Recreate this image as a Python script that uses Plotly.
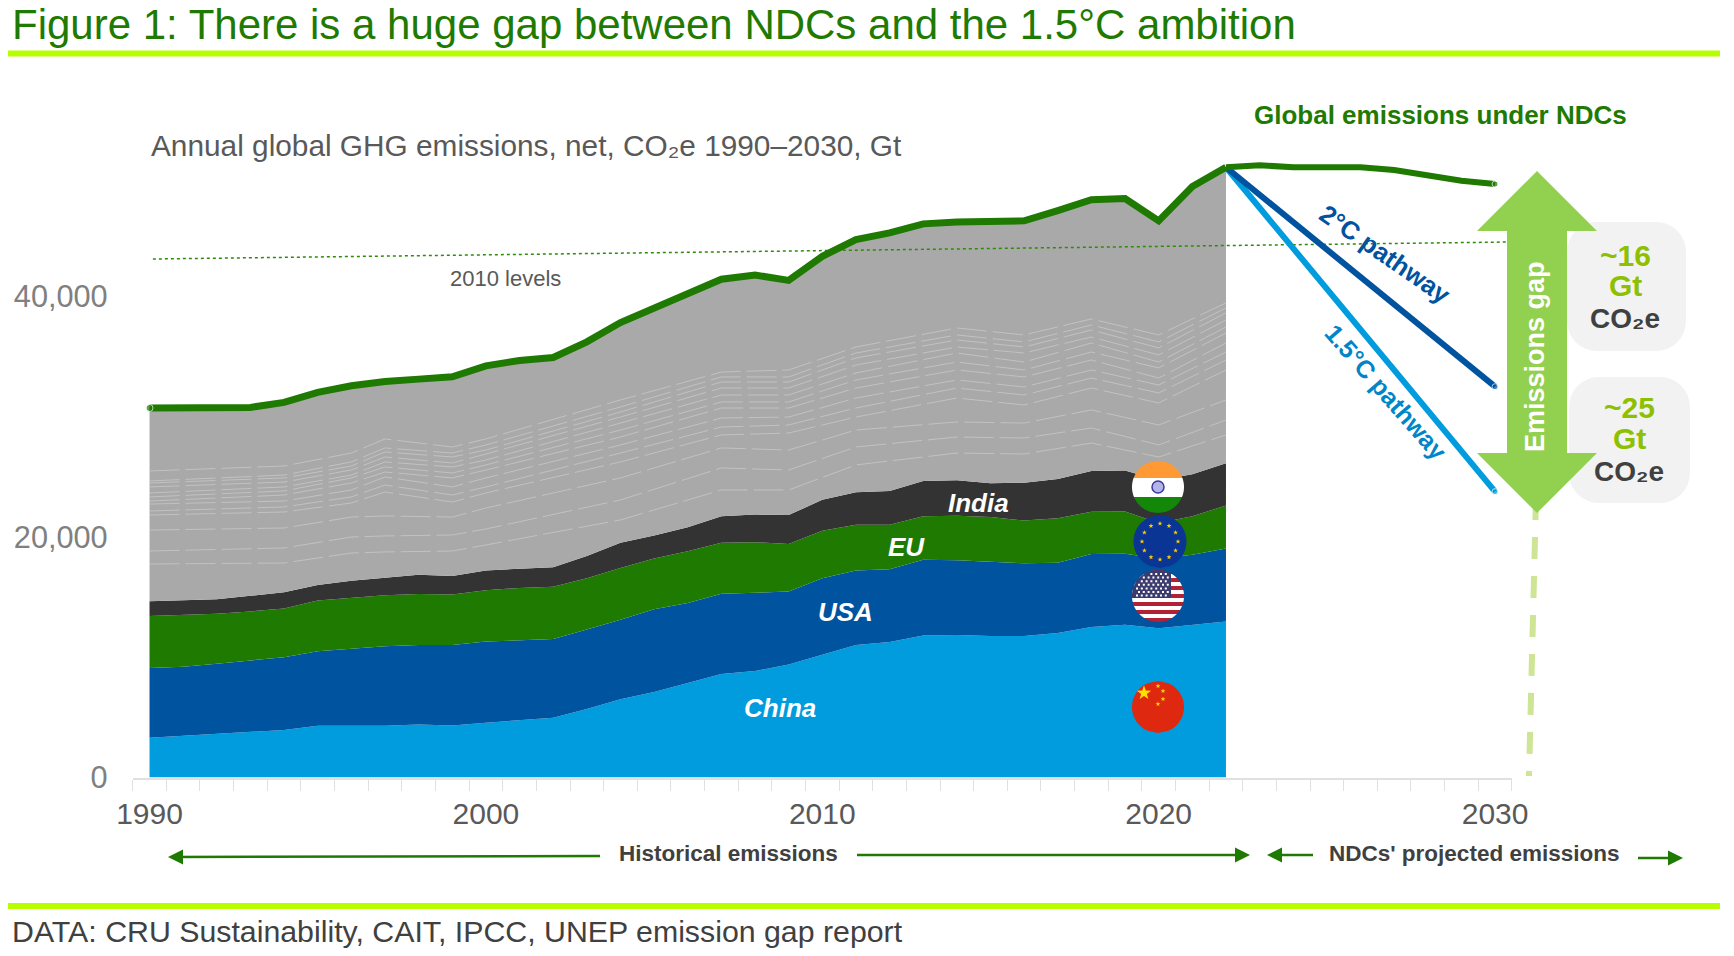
import math
import plotly.graph_objects as go

# the page keeps its 8px body margin, so the figure is a bit smaller than the window
W, H = 1718, 940
PAGE = 8

years = list(range(1990, 2023))
total = [30700, 30750, 30700, 30750, 31170, 32000, 32550, 32900, 33100, 33300, 34200, 34650, 34900, 36200, 37800, 39000, 40100,
         41400, 41750, 41300, 43300, 44700, 45250, 46000, 46150, 46150, 46250, 47100, 48000, 48100, 46250, 49100, 50700]
india_top = [14650, 14700, 14800, 15100, 15400, 16000, 16350, 16600, 16850, 16750, 17200, 17350, 17470, 18400, 19500, 20100, 20800,
             21700, 21850, 21800, 23080, 23700, 23800, 24640, 24700, 24450, 24500, 24800, 25470, 25500, 24700, 25200, 26100]
eu_top = [13420, 13500, 13600, 13800, 14050, 14700, 14950, 15150, 15250, 15200, 15550, 15750, 15850, 16550, 17400, 18200, 18800,
          19500, 19550, 19400, 20500, 21000, 21000, 21700, 21750, 21650, 21350, 21550, 22070, 22100, 21150, 21700, 22600]
usa_top = [9100, 9200, 9450, 9750, 10000, 10480, 10700, 10900, 11000, 11000, 11300, 11400, 11500, 12300, 13100, 13980, 14500,
           15260, 15350, 15450, 16550, 17200, 17300, 18100, 18050, 17900, 17800, 17850, 18570, 18600, 18200, 18500, 19030]
china_top = [3300, 3450, 3600, 3800, 3950, 4300, 4300, 4300, 4400, 4320, 4550, 4750, 4970, 5700, 6500, 7100, 7850,
             8600, 8850, 9380, 10200, 11000, 11250, 11800, 11850, 11750, 11750, 12000, 12500, 12700, 12400, 12700, 12960]

ndc_years = list(range(2022, 2031))
ndc = [50700, 50870, 50700, 50700, 50700, 50480, 50060, 49590, 49310]
path_years = [2022, 2030]
path_2c = [50700, 32470]
path_15c = [50700, 23750]

level_years = [1990.1, 2030.35]
level_2010 = [43080, 44490]

# thin boundaries between the smaller countries, read at these years
other_years = [1990, 1994, 1996, 1997, 1999, 2000, 2004, 2007, 2009, 2011, 2014, 2016, 2018, 2020, 2022]
other_rows = [
    [25470, 24640, 24470, 24140, 23640, 23310, 22970, 22720, 22140, 21810, 20560, 18820, 17740],
    [25880, 25130, 24890, 24550, 24140, 23810, 23470, 22970, 22480, 22060, 20730, 19070, 17820],
    [26960, 26220, 25880, 25550, 25130, 24890, 24470, 23890, 23310, 22810, 21640, 19980, 18650],
    [28130, 27380, 27050, 26630, 26220, 25800, 25380, 24970, 24300, 23720, 21730, 20070, 18740],
    [27460, 26960, 26630, 26130, 25800, 25300, 24890, 24140, 23470, 22890, 21640, 20150, 18820],
    [28130, 27630, 27210, 26880, 26380, 25970, 25550, 24890, 24140, 23640, 22390, 20650, 19320],
    [31370, 30790, 30370, 29950, 29450, 28870, 28290, 27630, 26960, 26220, 24890, 23060, 21400],
    [33690, 33280, 32860, 32360, 31780, 31200, 30700, 29870, 29120, 28460, 27380, 25720, 23890],
    [33860, 33280, 32860, 32360, 31780, 31200, 30700, 29950, 29290, 28620, 27210, 25550, 23890],
    [35770, 35270, 34860, 34270, 33610, 33030, 32360, 31530, 30700, 29950, 28870, 27460, 25970],
    [37350, 36770, 36350, 35770, 35270, 34520, 33860, 33030, 32360, 31530, 29540, 28290, 26960],
    [36770, 36190, 35770, 35270, 34520, 33860, 33280, 32450, 31780, 30950, 29450, 28210, 26880],
    [38100, 37600, 37180, 36600, 36100, 35350, 34690, 33860, 33190, 32360, 30540, 29040, 27790],
    [36770, 36190, 35690, 35110, 34520, 34030, 33190, 32610, 31950, 31120, 29290, 27630, 26630],
    [39430, 39010, 38600, 38010, 37430, 36930, 36100, 35350, 34690, 33860, 31370, 29700, 28460],
]

tick_years = [1990, 2000, 2010, 2020, 2030]
tick_values = [0, 20000, 40000]

GREEN = "#1E7A00"
LIME = "#B7FF00"
DARK_BLUE = "#00539F"
LIGHT_BLUE = "#009CDE"
ARROW_GREEN = "#92D050"
TEXT = "#595959"
FONT = "Liberation Sans"


def px(x):
    return (x - PAGE) / W


def py(y):
    return 1 - (y - PAGE) / H


def poly(points, color):
    d = "M" + " L".join(f"{px(x):.5f},{py(y):.5f}" for x, y in points) + " Z"
    return dict(type="path", xref="paper", yref="paper", path=d, fillcolor=color, line=dict(width=0))


def rect(x0, y0, x1, y1, color):
    return dict(type="rect", xref="paper", yref="paper", x0=px(x0), x1=px(x1), y0=py(y0), y1=py(y1),
                fillcolor=color, line=dict(width=0))


def disc_part(cx, cy, r, y0, y1, color, xmax=None):
    # piece of a round flag between two heights
    y0 = max(y0, cy - r)
    y1 = min(y1, cy + r)
    left, right = [], []
    for i in range(25):
        y = y0 + (y1 - y0) * i / 24
        half = math.sqrt(max(r * r - (y - cy) ** 2, 0))
        left.append((cx - half, y))
        right.append((cx + half if xmax is None else min(cx + half, xmax), y))
    return poly(left + right[::-1], color)


def star(cx, cy, r, color):
    pts = []
    for i in range(10):
        a = -math.pi / 2 + i * math.pi / 5
        rad = r if i % 2 == 0 else r * 0.4
        pts.append((cx + rad * math.cos(a), cy + rad * math.sin(a)))
    return poly(pts, color)


def rounded_box(x0, y0, x1, y1, r, color):
    pts = []
    for cx, cy, start in [(x1 - r, y0 + r, -90), (x1 - r, y1 - r, 0), (x0 + r, y1 - r, 90), (x0 + r, y0 + r, 180)]:
        for i in range(9):
            a = math.radians(start + i * 90 / 8)
            pts.append((cx + r * math.cos(a), cy + r * math.sin(a)))
    return poly(pts, color)


def label(text, x, y, size, color=TEXT, anchor="center", angle=0):
    return dict(text=text, x=px(x), y=py(y), xref="paper", yref="paper", xanchor=anchor, yanchor="middle",
                showarrow=False, textangle=angle, font=dict(family=FONT, size=size, color=color))


def flow_arrow(x_from, x_to, y_from, y_to):
    return dict(text=" ", x=px(x_to), y=py(y_to), xref="paper", yref="paper", ax=x_from - x_to, ay=y_from - y_to,
                showarrow=True, arrowhead=2, arrowsize=1.2, arrowwidth=2.5, arrowcolor=GREEN, standoff=0, startstandoff=0)


def end_dots(n, width, first=False):
    # round line ends
    sizes = [0] * n
    sizes[0 if first else -1] = width
    return sizes


fig = go.Figure()

# stacked bands, bottom first
bands = [(china_top, "China", "#009CDE"), (usa_top, "USA", "#00539F"), (eu_top, "EU", "#1E7A00"),
         (india_top, "India", "#333333"), (total, "Other", "#A9A9A9")]
for i, (band, name, color) in enumerate(bands):
    fig.add_trace(go.Scatter(x=years, y=band, name=name, mode="lines", line=dict(width=0),
                             fill="tozeroy" if i == 0 else "tonexty", fillcolor=color))

for line in zip(*other_rows):
    fig.add_trace(go.Scatter(x=other_years, y=list(line), mode="lines",
                             line=dict(color="rgba(225,225,225,0.55)", width=0.8, dash="30px,6px")))

fig.add_trace(go.Scatter(x=level_years, y=level_2010, mode="lines", cliponaxis=False,
                         line=dict(color="#2E8B0A", width=1.5, dash="dot")))

fig.add_trace(go.Scatter(x=path_years, y=path_15c, mode="lines+markers", cliponaxis=False,
                         line=dict(color=LIGHT_BLUE, width=6), marker=dict(color=LIGHT_BLUE, size=end_dots(2, 6))))
fig.add_trace(go.Scatter(x=path_years, y=path_2c, mode="lines+markers", cliponaxis=False,
                         line=dict(color=DARK_BLUE, width=6), marker=dict(color=DARK_BLUE, size=end_dots(2, 6))))
fig.add_trace(go.Scatter(x=ndc_years, y=ndc, mode="lines+markers", cliponaxis=False,
                         line=dict(color=GREEN, width=6), marker=dict(color=GREEN, size=end_dots(9, 6))))
fig.add_trace(go.Scatter(x=years, y=total, mode="lines+markers", cliponaxis=False,
                         line=dict(color=GREEN, width=7), marker=dict(color=GREEN, size=end_dots(33, 7, first=True))))

shapes = [
    rect(5, 50.5, 1720, 56.5, LIME),
    rect(5, 903, 1720, 909, LIME),
    rounded_box(1567, 222, 1686, 351, 30, "#F2F2F2"),
    rounded_box(1569, 377, 1690, 503, 30, "#F2F2F2"),
    dict(type="line", xref="paper", yref="paper", x0=px(1536), x1=px(1529), y0=py(498), y1=py(776),
         line=dict(color="#CDE595", width=6, dash="22px,17px")),
    poly([(1537, 171), (1597, 231), (1567, 231), (1567, 453), (1597, 453), (1537, 513),
          (1477, 453), (1507, 453), (1507, 231), (1477, 231)], ARROW_GREEN),
]

# India
shapes += [
    disc_part(1158, 487, 26, 461, 478, "#FF9933"),
    disc_part(1158, 487, 26, 478, 497, "#FFFFFF"),
    disc_part(1158, 487, 26, 497, 513, "#138808"),
    dict(type="circle", xref="paper", yref="paper", x0=px(1152), x1=px(1164), y0=py(481), y1=py(493),
         fillcolor="#B4B4E6", line=dict(color="#3A3AA0", width=1.5)),
]
# EU
shapes.append(disc_part(1160, 541.5, 26.5, 515, 568, "#0A3595"))
for i in range(12):
    a = i * math.pi / 6
    shapes.append(star(1160 + 18 * math.cos(a), 541.5 + 18 * math.sin(a), 2.6, "#FFCC00"))
# USA
for i in range(13):
    top = 570 + i * 4
    shapes.append(disc_part(1158, 596, 26, top, top + 4, "#B22234" if i % 2 == 0 else "#FFFFFF"))
shapes.append(disc_part(1158, 596, 26, 570, 598, "#3C3B6E", xmax=1171))
dots = ""
for row in range(7):
    for col in range(8):
        x = 1137 + col * 4.8 + (row % 2) * 2
        y = 574 + row * 3.6
        if (x - 1158) ** 2 + (y - 596) ** 2 < 24 ** 2 and x < 1170:
            dots += f"M{px(x - 1):.5f},{py(y - 1):.5f} L{px(x + 1):.5f},{py(y - 1):.5f} L{px(x + 1):.5f},{py(y + 1):.5f} L{px(x - 1):.5f},{py(y + 1):.5f} Z "
shapes.append(dict(type="path", xref="paper", yref="paper", path=dots, fillcolor="#FFFFFF", line=dict(width=0)))
# China
shapes.append(disc_part(1158, 707, 26, 681, 733, "#DE2910"))
shapes.append(star(1144, 693, 7.5, "#FFDE00"))
for x, y in [(1158, 686), (1163, 691), (1163, 699), (1158, 704)]:
    shapes.append(star(x, y, 2.6, "#FFDE00"))

annotations = [
    label("Figure 1: There is a huge gap between NDCs and the 1.5°C ambition", 10, 24, 42, GREEN, "left"),
    label("DATA: CRU Sustainability, CAIT, IPCC, UNEP emission gap report", 10, 931, 30.3, "#404040", "left"),
    label("Annual global GHG emissions, net, CO₂e 1990–2030, Gt", 148.5, 145, 29.8, TEXT, "left"),
    label("<b>Global emissions under NDCs</b>", 1440, 115, 26, GREEN),
    label("2010 levels", 505, 279, 22, TEXT),
    label("<b><i>China</i></b>", 780, 708, 26, "#FFFFFF"),
    label("<b><i>USA</i></b>", 845, 612, 26, "#FFFFFF"),
    label("<b><i>EU</i></b>", 907, 547, 26, "#FFFFFF"),
    label("<b><i>India</i></b>", 978, 503, 26, "#FFFFFF"),
    label("<b>2°C pathway</b>", 1385, 254, 25.5, DARK_BLUE, angle=34.7),
    label("<b>1.5°C pathway</b>", 1386, 392, 25, "#0086C8", angle=48.8),
    label("<b>Emissions gap</b>", 1535, 357, 27, "#FFFFFF", angle=-90),
    label("<b>~16</b>", 1625, 255, 30, "#8DC000"),
    label("<b>Gt</b>", 1625, 286, 30, "#8DC000"),
    label("<b>CO₂e</b>", 1625, 318, 28, "#404040"),
    label("<b>~25</b>", 1629, 408, 30, "#8DC000"),
    label("<b>Gt</b>", 1629, 439, 30, "#8DC000"),
    label("<b>CO₂e</b>", 1629, 471, 28, "#404040"),
    label("<b>Historical emissions</b>", 728, 853, 22.5, "#404040"),
    label("<b>NDCs' projected emissions</b>", 1474, 853, 22.5, "#404040"),
    flow_arrow(603, 168, 856, 857),
    flow_arrow(854, 1250, 855, 855),
    flow_arrow(1316, 1267, 855, 855),
    flow_arrow(1635, 1683, 858, 858),
]

fig.update_layout(
    width=W, height=H, autosize=False, showlegend=False, margin=dict(l=0, r=0, t=0, b=0, pad=0),
    paper_bgcolor="white", plot_bgcolor="white", font=dict(family=FONT),
    shapes=shapes, annotations=annotations,
    xaxis=dict(domain=[px(132.7), px(1511.9)], range=[1989.5, 2030.5], tickvals=tick_years, ticks="",
               showline=True, linecolor="#E0E0E0", linewidth=2, showgrid=False,
               zeroline=False, tickfont=dict(family=FONT, size=30, color=TEXT), ticklabelstandoff=8, automargin=False,
               minor=dict(dtick=1, tick0=1989.5, ticks="outside", ticklen=11, tickcolor="#E0E0E0", tickwidth=1, showgrid=False)),
    yaxis=dict(domain=[py(777.5), py(103.5)], range=[0, 56000], tickvals=tick_values, tickformat=",",
               showline=False, showgrid=False, zeroline=False, ticks="", ticklabelstandoff=24, automargin=False,
               tickfont=dict(family=FONT, size=30.7, color="#808080")),
)

fig.write_html("out.html")
